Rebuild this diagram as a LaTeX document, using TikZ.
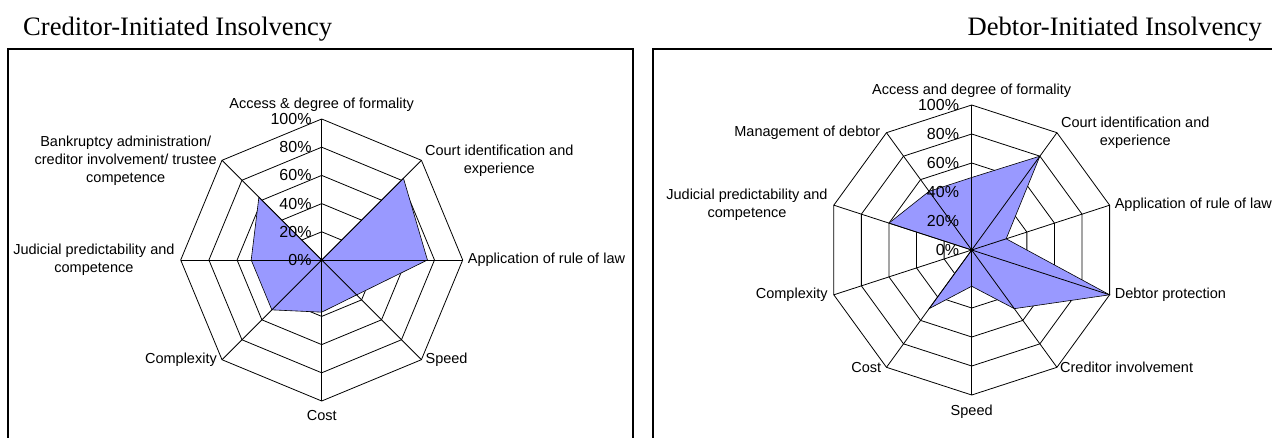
\documentclass[tikz,border=0pt]{standalone}
\usepackage{fontspec}
\setmainfont{Liberation Serif}
\newfontfamily\arialf{Liberation Sans}
\usetikzlibrary{calc}
\definecolor{radarfill}{RGB}{153,153,255}
\tikzset{
  gridline/.style={draw=black, line width=0.8pt, line join=miter},
  spoke/.style={draw=black, line width=0.8pt},
  datapoly/.style={fill=radarfill, draw=black, line width=0.6pt, line join=miter},
  catlabel/.style={font=\arialf\fontsize{14.5}{18}\selectfont, align=center, inner sep=0pt},
  ticklabel/.style={font=\arialf\fontsize{16}{18}\selectfont, inner sep=0pt, anchor=east},
  charttitle/.style={font=\fontsize{26.6}{30}\selectfont, inner sep=0pt},
  frame/.style={draw=black, line width=1.1pt},
}
\begin{document}
\begin{tikzpicture}[x=1pt,y=-1pt]
\useasboundingbox (0,0) rectangle (1272,437);
\fill[white] (0,0) rectangle (1272,437);

% titles
\node[charttitle, anchor=base west] (t1) at (23,35) {Creditor-Initiated Insolvency};
\node[charttitle, anchor=base east] (t2) at (1262,35) {Debtor-Initiated Insolvency};

% frames
\coordinate (f1a) at (8,440);
\coordinate (f1b) at (8,49);
\coordinate (f1c) at (633,49);
\coordinate (f1d) at (633,440);
\draw[frame] (f1a) -- (f1b) -- (f1c) -- (f1d);
\coordinate (f2a) at (653,440);
\coordinate (f2b) at (653,49);
\coordinate (f2c) at (1275,49);
\draw[frame] (f2a) -- (f2b) -- (f2c);

% ---------------- left radar ----------------
\begin{scope}[shift={(321.7,260)}, y=1pt]
\def\R{141}
\coordinate (Lc) at (0,0);
\foreach \k in {0,...,7} \coordinate (Lv\k) at ({90-45*\k}:\R);
\foreach \f in {0.2,0.4,0.6,0.8,1}
  \draw[gridline] (90:{\f*\R}) \foreach \k in {1,...,7}{ -- ({90-45*\k}:{\f*\R}) } -- cycle;
\path[datapoly] (Lc) -- (45:{0.82*\R}) -- (0:{0.75*\R}) -- (-45:{0.35*\R})
  -- (-90:{0.37*\R}) -- (-135:{0.5*\R}) -- (180:{0.5*\R}) -- (135:{0.63*\R}) -- cycle;
\foreach \k in {0,...,7} \draw[spoke] (Lc) -- (Lv\k);
\fill (Lc) circle (1.6);
\foreach \f/\t in {0/0,0.2/20,0.4/40,0.6/60,0.8/80,1/100}
  \node[ticklabel] (Lt\t) at (-10,{\f*\R}) {\t\%};
\node[catlabel, anchor=base] (La0) at (0,{\R+10.7}) {Access \& degree of formality};
\node[catlabel, anchor=west] (La1) at ($(Lv1)+(3.5,0)$) {Court identification and\\experience};
\node[catlabel, anchor=west] (La2) at ($(Lv2)+(5,0)$) {Application of rule of law};
\node[catlabel, anchor=west] (La3) at ($(Lv3)+(4,0)$) {Speed};
\node[catlabel, anchor=north] (La4) at ($(Lv4)+(0,-9)$) {Cost};
\node[catlabel, anchor=east] (La5) at ($(Lv5)+(-5,0)$) {Complexity};
\node[catlabel, anchor=east] (La6) at ($(Lv6)+(-6,0)$) {Judicial predictability and\\competence};
\node[catlabel, anchor=east] (La7) at ($(Lv7)+(-5,0)$) {Bankruptcy administration/\\creditor involvement/ trustee\\competence};
\end{scope}

% ---------------- right radar ----------------
\begin{scope}[shift={(971.7,250)}, y=1pt]
\def\R{145}
\coordinate (Rc) at (0,0);
\foreach \k in {0,...,9} \coordinate (Rv\k) at ({90-36*\k}:\R);
\foreach \f in {0.2,0.4,0.6,0.8,1}
  \draw[gridline] (90:{\f*\R}) \foreach \k in {1,...,9}{ -- ({90-36*\k}:{\f*\R}) } -- cycle;
\path[datapoly] (90:{0.5*\R}) -- (54:{0.8*\R}) -- (18:{0.25*\R}) -- (-18:{1.0*\R})
  -- (-54:{0.5*\R}) -- (-90:{0.25*\R}) -- (-126:{0.5*\R}) -- (Rc)
  -- (162:{0.6*\R}) -- (126:{0.5*\R}) -- cycle;
\foreach \k in {0,...,9} \draw[spoke] (Rc) -- (Rv\k);
\fill (Rc) circle (1.6);
\foreach \f/\t in {0/0,0.2/20,0.4/40,0.6/60,0.8/80,1/100}
  \node[ticklabel] (Rt\t) at (-12.5,{\f*\R}) {\t\%};
\node[catlabel, anchor=base] (Ra0) at (0,{\R+11}) {Access and degree of formality};
\node[catlabel, anchor=west] (Ra1) at ($(Rv1)+(4,0)$) {Court identification and\\experience};
\node[catlabel, anchor=west] (Ra2) at ($(Rv2)+(5,0)$) {Application of rule of law};
\node[catlabel, anchor=west] (Ra3) at ($(Rv3)+(5,0)$) {Debtor protection};
\node[catlabel, anchor=west] (Ra4) at ($(Rv4)+(3,0)$) {Creditor involvement};
\node[catlabel, anchor=north] (Ra5) at ($(Rv5)+(0,-10)$) {Speed};
\node[catlabel, anchor=east] (Ra6) at ($(Rv6)+(-5,0)$) {Cost};
\node[catlabel, anchor=east] (Ra7) at ($(Rv7)+(-6,0)$) {Complexity};
\node[catlabel, anchor=east] (Ra8) at ($(Rv8)+(-6,0)$) {Judicial predictability and\\competence};
\node[catlabel, anchor=east] (Ra9) at ($(Rv9)+(-6,0)$) {Management of debtor};
\end{scope}
\end{tikzpicture}
\end{document}
